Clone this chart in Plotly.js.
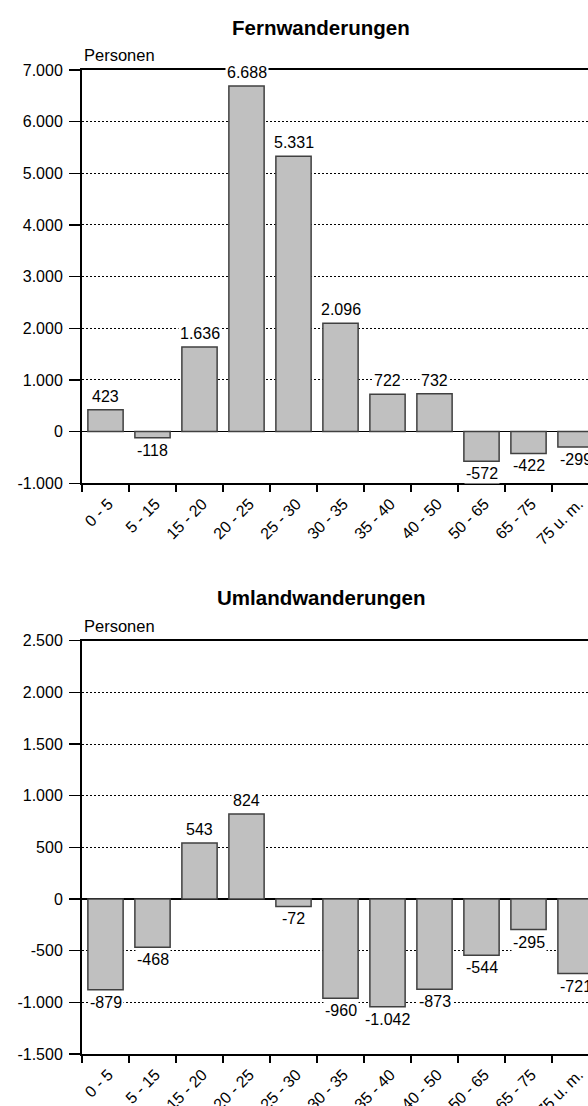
<!DOCTYPE html>
<html>
<head>
<meta charset="utf-8">
<script src="https://cdn.plot.ly/plotly-3.0.1.min.js"></script>
<style>
  html, body { margin: 0; padding: 0; overflow: hidden; background: #fff; }
  #chart { width: 610px; height: 1106px; }
</style>
</head>
<body>
<div id="chart"></div>
<script>
const categories = ['0 - 5', '5 - 15', '15 - 20', '20 - 25', '25 - 30', '30 - 35', '35 - 40', '40 - 50', '50 - 65', '65 - 75', '75 u. m.'];
const fernValues = [423, -118, 1636, 6688, 5331, 2096, 722, 732, -572, -422, -299];
const umlandValues = [-879, -468, 543, 824, -72, -960, -1042, -873, -544, -295, -721];
const fernTitle = 'Fernwanderungen';
const umlandTitle = 'Umlandwanderungen';
const unitLabel = 'Personen';
const fernTickVals = [-1000, 0, 1000, 2000, 3000, 4000, 5000, 6000, 7000];
const fernTickText = ['-1.000', '0', '1.000', '2.000', '3.000', '4.000', '5.000', '6.000', '7.000'];
const umlandTickVals = [-1500, -1000, -500, 0, 500, 1000, 1500, 2000, 2500];
const umlandTickText = ['-1.500', '-1.000', '-500', '0', '500', '1.000', '1.500', '2.000', '2.500'];

const FONT = 'Arial, "Liberation Sans", sans-serif';

function fmt(v) {
  const s = String(Math.abs(v)).replace(/\B(?=(\d{3})+(?!\d))/g, '.');
  return (v < 0 ? '-' : '') + s;
}

function barTrace(values, xa, ya) {
  return {
    type: 'bar', x: categories, y: values, xaxis: xa, yaxis: ya,
    marker: { color: '#c0c0c0', line: { color: '#404040', width: 1.5 } },
    hoverinfo: 'x+y', showlegend: false
  };
}

function valueAnnotations(values, xr, yr) {
  return values.map((v, i) => ({
    x: categories[i], y: v, xref: xr, yref: yr,
    text: fmt(v), showarrow: false,
    yanchor: v >= 0 ? 'bottom' : 'top',
    yshift: v >= 0 ? 3 : -2,
    bgcolor: '#ffffff', borderpad: 1,
    font: { family: FONT, size: 16, color: '#000' }
  }));
}

function yAxis(tv, tt, range, domain, anchor) {
  return {
    domain: domain, anchor: anchor, range: range,
    tickvals: tv, ticktext: tt,
    showline: true, linecolor: '#000', linewidth: 2, mirror: true,
    ticks: 'outside', ticklen: 11, tickwidth: 1.5, tickcolor: '#000',
    ticklabelstandoff: 3,
    showgrid: true, gridcolor: '#000', gridwidth: 1, griddash: '2px,2px',
    zeroline: true, zerolinecolor: '#000', zerolinewidth: 1.5,
    tickfont: { family: FONT, size: 16, color: '#000' },
    fixedrange: true
  };
}

function xAxis(anchor) {
  return {
    type: 'category', anchor: anchor,
    showline: true, linecolor: '#000', linewidth: 2, mirror: true,
    ticks: 'outside', tickson: 'boundaries', ticklen: 7, tickwidth: 1.5, tickcolor: '#000',
    tickangle: -45, ticklabelstandoff: 3, ticklabelshift: 3,
    showgrid: false, zeroline: false,
    tickfont: { family: FONT, size: 16, color: '#000' },
    fixedrange: true
  };
}

const titleX = 0.4623;
const annotations = [
  { text: '<b>' + fernTitle + '</b>', xref: 'paper', yref: 'paper', x: titleX, y: 1, xanchor: 'center', yanchor: 'middle', yshift: 43, showarrow: false, font: { family: FONT, size: 20.5, color: '#000' } },
  { text: '<b>' + umlandTitle + '</b>', xref: 'paper', yref: 'paper', x: titleX, y: 0.42, xanchor: 'center', yanchor: 'middle', yshift: 43, showarrow: false, font: { family: FONT, size: 20.5, color: '#000' } },
  { text: unitLabel, xref: 'paper', yref: 'paper', x: 0, y: 1, xanchor: 'left', yanchor: 'bottom', yshift: 4, showarrow: false, font: { family: FONT, size: 16.5, color: '#000' } },
  { text: unitLabel, xref: 'paper', yref: 'paper', x: 0, y: 0.42, xanchor: 'left', yanchor: 'bottom', yshift: 4, showarrow: false, font: { family: FONT, size: 16.5, color: '#000' } }
].concat(valueAnnotations(fernValues, 'x', 'y'), valueAnnotations(umlandValues, 'x2', 'y2'));

const layout = {
  width: 610, height: 1106,
  margin: { l: 82, r: 11, t: 70, b: 52 },
  paper_bgcolor: '#fff', plot_bgcolor: '#fff',
  bargap: 0.25,
  font: { family: FONT, color: '#000' },
  xaxis: xAxis('y'),
  yaxis: yAxis(fernTickVals, fernTickText, [-1000, 7000], [0.58, 1], 'x'),
  xaxis2: xAxis('y2'),
  yaxis2: yAxis(umlandTickVals, umlandTickText, [-1500, 2500], [0, 0.42], 'x2'),
  annotations: annotations,
  showlegend: false
};

Plotly.newPlot('chart', [barTrace(fernValues, 'x', 'y'), barTrace(umlandValues, 'x2', 'y2')], layout, { displayModeBar: false, staticPlot: true });
</script>
</body>
</html>
